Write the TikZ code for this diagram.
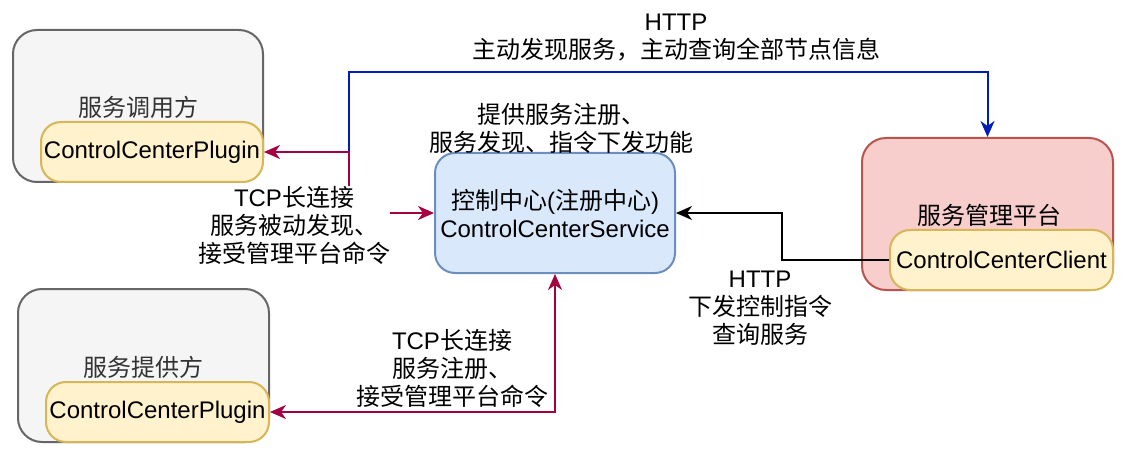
\documentclass[tikz,border=0pt]{standalone}
\usepackage{fontspec}
\setmainfont{Liberation Sans}
\newfontfamily\cjk{Noto Sans CJK SC}
\usetikzlibrary{arrows.meta}
\definecolor{grayfill}{HTML}{F5F5F5}
\definecolor{graystroke}{HTML}{666666}
\definecolor{graytext}{HTML}{333333}
\definecolor{yelfill}{HTML}{FFF2CC}
\definecolor{yelstroke}{HTML}{D6B656}
\definecolor{bluefill}{HTML}{DAE8FC}
\definecolor{bluestroke}{HTML}{6C8EBF}
\definecolor{redfill}{HTML}{F8CECC}
\definecolor{redstroke}{HTML}{B85450}
\definecolor{crimsonline}{HTML}{A50040}
\definecolor{blueline}{HTML}{001DBC}
\tikzset{
  base/.style={font=\fontsize{12}{14}\selectfont, align=center, inner sep=0pt},
  graybox/.style={base, draw=graystroke, fill=grayfill, line width=1pt, rounded corners=12pt, text=graytext},
  yelbox/.style={base, draw=yelstroke, fill=yelfill, line width=1pt, rounded corners=10pt},
  svcbox/.style={base, draw=bluestroke, fill=bluefill, line width=1pt, rounded corners=10pt},
  platbox/.style={base, draw=redstroke, fill=redfill, line width=1pt, rounded corners=12pt},
  lbl/.style={base, fill=white},
  plain/.style={base},
  tcpline/.style={draw=crimsonline, line width=1pt, {Stealth[length=8pt,width=7pt,inset=2.5pt]}-{Stealth[length=8pt,width=7pt,inset=2.5pt]}},
  httpline/.style={draw=blueline, line width=1pt, -{Stealth[length=8pt,width=7pt,inset=2.5pt]}},
  cmdline/.style={draw=black, line width=1pt, -{Stealth[length=8pt,width=7pt,inset=2.5pt]}},
}
\begin{document}
\begin{tikzpicture}[x=0.5pt, y=-0.5pt]
\useasboundingbox (0,0) rectangle (1134,454);
% containers
\node[graybox, minimum width=125pt, minimum height=76pt] (caller) at (138,106) {};
\node[plain, text=graytext] (callerlbl) at (138,107) {\cjk 服务调用方};
\node[yelbox, minimum width=111pt, minimum height=30pt] (callerplug) at (152,152) {ControlCenterPlugin};

\node[graybox, minimum width=125.5pt, minimum height=76.5pt] (provider) at (143.5,365.5) {};
\node[plain, text=graytext] (provlbl) at (143,367) {\cjk 服务提供方};
\node[yelbox, minimum width=111.5pt, minimum height=30pt] (provplug) at (157.5,412) {ControlCenterPlugin};

\node[svcbox, minimum width=120pt, minimum height=60pt] (service) at (555,213) {{\cjk 控制中心}({\cjk 注册中心})\\ControlCenterService};

\node[platbox, minimum width=125.5pt, minimum height=76pt] (platform) at (987.5,214) {};
\node[plain] (platlbl) at (989,215) {\cjk 服务管理平台};
\node[yelbox, minimum width=111.5pt, minimum height=30pt] (client) at (1001.5,260) {ControlCenterClient};

% connectors
\coordinate (j1) at (349,152);
\draw[httpline] (j1) -- ++(0,-80) -| (platform.north);
\draw[tcpline] (callerplug.east) -- (j1) |- (service.west);
\draw[tcpline] (provplug.east) -| (service.south);
\draw[cmdline] (client.west) -- ++(-107,0) |- (service.east);

% labels
\node[lbl] (toplbl) at (676,38) {HTTP\\{\cjk 主动发现服务，主动查询全部节点信息}};
\node[plain] (svclbl) at (561,128) {\cjk 提供服务注册、\\\cjk 服务发现、指令下发功能};
\node[lbl] (tcp1lbl) at (294,225) {TCP{\cjk 长连接}\\{\cjk 服务被动发现、}\\{\cjk 接受管理平台命令}};
\node[lbl] (tcp2lbl) at (452,368) {TCP{\cjk 长连接}\\{\cjk 服务注册、}\\{\cjk 接受管理平台命令}};
\node[lbl] (cmdlbl) at (760,308) {HTTP\\{\cjk 下发控制指令}\\{\cjk 查询服务}};
\end{tikzpicture}
\end{document}
